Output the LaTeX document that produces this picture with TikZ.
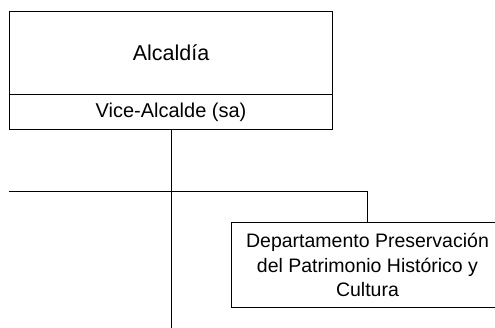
\documentclass[tikz,border=0pt]{standalone}
\usepackage{fontspec}
\setmainfont{Liberation Sans}
\begin{document}
\begin{tikzpicture}[x=1pt,y=-1pt,line width=1pt,
  box/.style={draw, rectangle, inner sep=0pt, align=center, anchor=north west},
  conn/.style={draw, line width=1pt}]
\useasboundingbox (0,0) rectangle (495,328);
\clip (0,0) rectangle (495,328);
\node[box, minimum width=323pt, minimum height=83pt, font=\fontsize{21.5}{24}\selectfont] (alc) at (9,11) {Alcaldía};
\node[box, minimum width=323pt, minimum height=35pt, font=\fontsize{20}{24}\selectfont] (vice) at (9,94) {Vice-Alcalde (sa)};
\node[box, minimum width=272pt, minimum height=85pt, font=\fontsize{19.5}{24.5}\selectfont] (dept) at (231,222) {Departamento Preservación\\del Patrimonio Histórico y\\Cultura};
\coordinate (hl) at (9,192);
\coordinate (bot) at (171,330);
\draw[conn] (vice.south) -- (bot);
\draw[conn] (hl) -- (dept.north |- hl) -- (dept.north);
\end{tikzpicture}
\end{document}
